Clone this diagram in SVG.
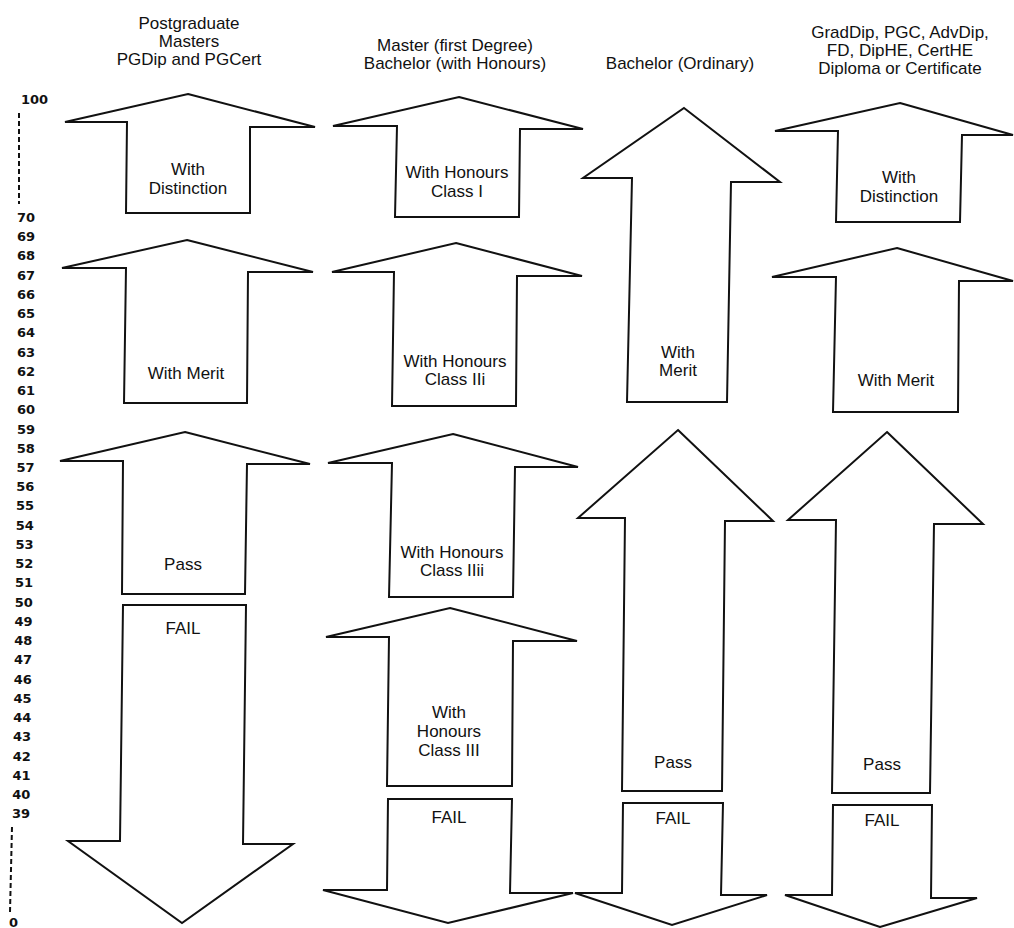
<svg xmlns="http://www.w3.org/2000/svg" width="1014" height="928" viewBox="0 0 1014 928">
<style>
.ar{fill:#fff;stroke:#111;stroke-width:2;stroke-linejoin:miter}
.hd{font-family:"Liberation Sans",Arial,sans-serif;font-size:17px;fill:#111;text-anchor:middle}
.lb{font-family:"Liberation Sans",Arial,sans-serif;font-size:17px;fill:#111;text-anchor:middle}
.sc{font-family:"DejaVu Sans",Verdana,sans-serif;font-size:13px;font-weight:bold;fill:#111}
.dash{stroke:#111;stroke-width:2;stroke-dasharray:5 3;fill:none}
</style>
<rect width="1014" height="928" fill="#fff"/>
<g id="headers">
<text class="hd" x="189" y="29">Postgraduate</text>
<text class="hd" x="189" y="47">Masters</text>
<text class="hd" x="189" y="65">PGDip and PGCert</text>
<text class="hd" x="455" y="51">Master (first Degree)</text>
<text class="hd" x="455" y="69">Bachelor (with Honours)</text>
<text class="hd" x="680" y="69">Bachelor (Ordinary)</text>
<text class="hd" x="900" y="38">GradDip, PGC, AdvDip,</text>
<text class="hd" x="900" y="56">FD, DipHE, CertHE</text>
<text class="hd" x="900" y="74">Diploma or Certificate</text>
</g>
<g id="scale">
<text class="sc" x="21" y="104">100</text>
<line class="dash" x1="19" y1="113" x2="19" y2="204"/>
<text class="sc" x="17" y="222">70</text>
<text class="sc" x="17" y="241">69</text>
<text class="sc" x="17" y="260">68</text>
<text class="sc" x="17" y="280">67</text>
<text class="sc" x="17" y="299">66</text>
<text class="sc" x="17" y="318">65</text>
<text class="sc" x="17" y="337">64</text>
<text class="sc" x="17" y="357">63</text>
<text class="sc" x="17" y="376">62</text>
<text class="sc" x="17" y="395">61</text>
<text class="sc" x="17" y="414">60</text>
<text class="sc" x="17" y="434">59</text>
<text class="sc" x="16.7" y="453">58</text>
<text class="sc" x="16.5" y="472">57</text>
<text class="sc" x="16.2" y="491">56</text>
<text class="sc" x="16" y="510">55</text>
<text class="sc" x="15.7" y="530">54</text>
<text class="sc" x="15.5" y="549">53</text>
<text class="sc" x="15.2" y="568">52</text>
<text class="sc" x="15" y="587">51</text>
<text class="sc" x="14.7" y="607">50</text>
<text class="sc" x="14.5" y="626">49</text>
<text class="sc" x="14.2" y="645">48</text>
<text class="sc" x="14" y="664">47</text>
<text class="sc" x="13.7" y="684">46</text>
<text class="sc" x="13.5" y="703">45</text>
<text class="sc" x="13.2" y="722">44</text>
<text class="sc" x="13" y="741">43</text>
<text class="sc" x="12.7" y="761">42</text>
<text class="sc" x="12.5" y="780">41</text>
<text class="sc" x="12.2" y="799">40</text>
<text class="sc" x="12" y="818">39</text>
<line class="dash" x1="12" y1="827" x2="10" y2="912"/>
<text class="sc" x="9" y="927">0</text>
</g>
<g id="connectors"></g>
<g id="pg-distinction">
<polygon class="ar" points="188,94 315,127 250,127 250,213 126,213 127,122 65,122"/>
<text class="lb" x="188" y="175">With</text>
<text class="lb" x="188" y="194">Distinction</text>
</g>
<g id="pg-merit">
<polygon class="ar" points="187,240 313,272 248,272 247,403 124,403 126,268 62,268"/>
<text class="lb" x="186" y="379">With Merit</text>
</g>
<g id="pg-pass">
<polygon class="ar" points="185,432 310,464 247,464 245,594 122,594 123,461 60,461"/>
<text class="lb" x="183" y="570">Pass</text>
</g>
<g id="pg-fail">
<polygon class="ar" points="123,605 246,605 243,844 293,844 182,923 68,841 120,841"/>
<text class="lb" x="183" y="634">FAIL</text>
</g>
<g id="hon-class1">
<polygon class="ar" points="459,97 583,129 520,129 519,217 395,217 397,126 333,126"/>
<text class="lb" x="457" y="178">With Honours</text>
<text class="lb" x="457" y="197">Class I</text>
</g>
<g id="hon-class2i">
<polygon class="ar" points="456,243 582,276 517,276 516,406 392,406 394,272 332,272"/>
<text class="lb" x="455" y="367">With Honours</text>
<text class="lb" x="455" y="385">Class IIi</text>
</g>
<g id="hon-class2ii">
<polygon class="ar" points="453,434 578,467 515,467 513,597 389,597 392,463 328,463"/>
<text class="lb" x="452" y="558">With Honours</text>
<text class="lb" x="452" y="576">Class IIii</text>
</g>
<g id="hon-class3">
<polygon class="ar" points="450,608 577,641 513,641 512,786 387,786 389,637 326,637"/>
<text class="lb" x="449" y="718">With</text>
<text class="lb" x="449" y="737">Honours</text>
<text class="lb" x="449" y="756">Class III</text>
</g>
<g id="hon-fail">
<polygon class="ar" points="388,799 512,799 510,893 573,893 448,923 323,890 387,890"/>
<text class="lb" x="449" y="823">FAIL</text>
</g>
<g id="ord-merit">
<polygon class="ar" points="684,108 780,182 731,182 727,402 627,402 632,178 583,178"/>
<text class="lb" x="678" y="358">With</text>
<text class="lb" x="678" y="376">Merit</text>
</g>
<g id="ord-pass">
<polygon class="ar" points="678,430 773,521 725,521 722,791 622,791 625,518 578,518"/>
<text class="lb" x="673" y="768">Pass</text>
</g>
<g id="ord-fail">
<polygon class="ar" points="623,803 723,803 721,895 767,895 672,925 575,893 622,893"/>
<text class="lb" x="673" y="824">FAIL</text>
</g>
<g id="dip-distinction">
<polygon class="ar" points="900,103 1013,135 962,135 960,222 836,222 838,131 775,131"/>
<text class="lb" x="899" y="183">With</text>
<text class="lb" x="899" y="202">Distinction</text>
</g>
<g id="dip-merit">
<polygon class="ar" points="897,248 1013,281 959,281 958,412 833,412 836,277 772,277"/>
<text class="lb" x="896" y="386">With Merit</text>
</g>
<g id="dip-pass">
<polygon class="ar" points="887,432 983,524 934,524 930,793 832,793 836,520 788,520"/>
<text class="lb" x="882" y="770">Pass</text>
</g>
<g id="dip-fail">
<polygon class="ar" points="833,805 932,805 931,898 977,898 880,927 785,895 832,895"/>
<text class="lb" x="882" y="826">FAIL</text>
</g>
</svg>
